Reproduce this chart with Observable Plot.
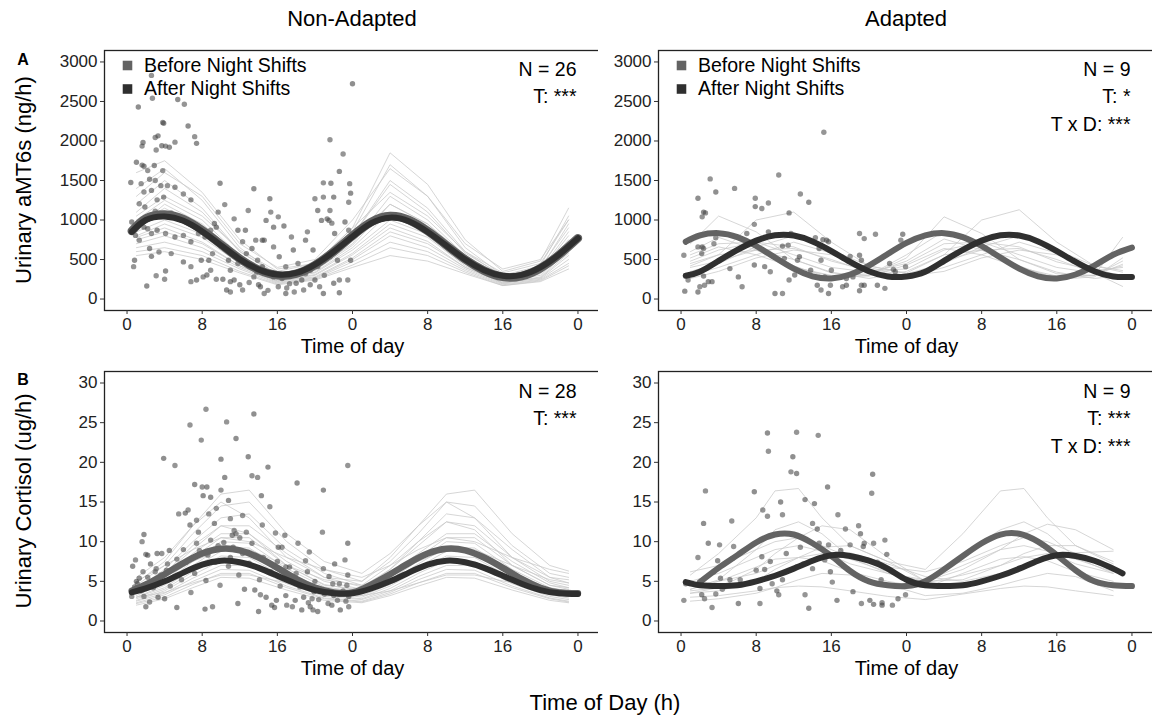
<!DOCTYPE html>
<html><head><meta charset="utf-8">
<script src="https://cdn.jsdelivr.net/npm/d3@7"></script>
<script src="https://cdn.jsdelivr.net/npm/@observablehq/plot@0.6"></script>
<style>
body{margin:0;background:#fff;font-family:"Liberation Sans",Arial,sans-serif;}
#fig{position:relative;width:1152px;height:717px;overflow:hidden;background:#fff;}
.abs{position:absolute;white-space:nowrap;color:#000;}
.ctr{transform:translate(-50%,-50%);}
.rot{transform:translate(-50%,-50%) rotate(-90deg);}
</style></head><body><div id="fig"></div>
<script>
// ---------- labels ----------
const columnTitles = ["Non-Adapted", "Adapted"];
const rowLetters = ["A", "B"];
const yTitles = ["Urinary aMT6s (ng/h)", "Urinary Cortisol (ug/h)"];
const xTitle = "Time of day";
const bottomTitle = "Time of Day (h)";
const legendLabels = ["Before Night Shifts", "After Night Shifts"];
const statsANon = ["N = 26", "T: ***"];
const statsAAd = ["N = 9", "T: *", "T x D: ***"];
const statsCNon = ["N = 28", "T: ***"];
const statsCAd = ["N = 9", "T: ***", "T x D: ***"];
const xTickValues = [0, 8, 16, 24, 32, 40, 48];
const yTicksA = [0, 500, 1000, 1500, 2000, 2500, 3000];
const yTicksC = [0, 5, 10, 15, 20, 25, 30];

// ---------- group mean curves ----------
const curveHours = [0.5, 2, 4, 6, 8, 10, 12, 14, 16, 18, 20, 22, 24, 26, 28, 30, 32, 34, 36, 38, 40, 42, 44, 46, 48];
const aNonBefore = [860, 1020, 1070, 1010, 870, 690, 510, 370, 300, 320, 430, 600, 800, 975, 1050, 1000, 860, 680, 500, 360, 280, 290, 390, 560, 770];
const aNonAfter  = [850, 1000, 1045, 990, 855, 680, 505, 375, 310, 330, 435, 600, 790, 960, 1030, 985, 850, 675, 500, 365, 295, 305, 400, 565, 770];
const aAdBefore  = [725, 805, 834, 784, 671, 525, 384, 287, 260, 310, 423, 569, 710, 805, 834, 784, 671, 525, 384, 287, 260, 310, 423, 560, 650];
const aAdAfter   = [295, 345, 483, 621, 739, 806, 803, 729, 607, 469, 351, 285, 285, 345, 483, 621, 739, 806, 803, 729, 607, 469, 351, 285, 280];
const cNonBefore = [3.8, 4.6, 5.9, 7.3, 8.5, 9.1, 8.9, 8.0, 6.7, 5.3, 4.2, 3.6, 3.6, 4.6, 5.9, 7.3, 8.5, 9.1, 8.9, 8.0, 6.7, 5.3, 4.2, 3.6, 3.5];
const cNonAfter  = [3.6, 4.1, 5.0, 6.1, 7.1, 7.6, 7.4, 6.7, 5.7, 4.7, 3.9, 3.5, 3.5, 4.1, 5.0, 6.1, 7.1, 7.6, 7.4, 6.7, 5.7, 4.7, 3.9, 3.5, 3.4];
const cAdBeforeHours = [2, 4, 6, 8, 10, 12, 14, 16, 18, 20, 22, 24, 26, 28, 30, 32, 34, 36, 38, 40, 42, 44, 46, 48];
const cAdBefore  = [4.9, 6.7, 8.3, 9.9, 10.9, 10.9, 9.8, 8.2, 6.3, 5.0, 4.5, 4.4, 5.0, 6.5, 8.2, 9.8, 10.9, 11.0, 10.0, 8.3, 6.4, 5.0, 4.5, 4.4];
const cAdAfterHours = [0.5, 2, 4, 6, 8, 10, 12, 14, 16, 18, 20, 22, 24, 26, 28, 30, 32, 34, 36, 38, 40, 42, 44, 46, 47];
const cAdAfter   = [4.9, 4.5, 4.4, 4.5, 5.0, 5.7, 6.6, 7.6, 8.3, 8.2, 7.6, 6.6, 5.2, 4.5, 4.4, 4.5, 5.0, 5.7, 6.6, 7.6, 8.3, 8.2, 7.6, 6.6, 6.0];

// ---------- individual subject curves ----------
const aLineHours = [1, 4, 8, 12, 16, 20, 24, 28, 32, 36, 40, 44, 47];
const aNonLines = [
  [1600,1750,1350,750,380,450,900,1850,1450,750,350,480,1150],
  [1400,1650,1250,650,300,420,850,1700,1300,650,300,420,1050],
  [1200,1500,1150,600,300,400,800,1500,1150,600,280,380,950],
  [1100,1400,1100,600,320,420,800,1450,1100,580,300,400,900],
  [1000,1250,1000,550,280,380,700,1300,1000,550,260,350,800],
  [950,1150,900,520,270,360,680,1200,950,500,250,330,750],
  [900,1100,880,500,260,340,650,1100,880,480,230,320,700],
  [850,1000,820,480,250,330,620,1000,820,450,220,300,650],
  [800,950,780,450,230,310,580,950,780,420,200,280,620],
  [780,900,720,420,220,300,560,900,730,400,200,270,580],
  [750,850,700,420,230,280,520,850,700,400,210,260,550],
  [700,800,650,400,210,270,500,800,650,380,190,250,500],
  [650,720,600,380,200,260,470,720,600,360,180,240,450],
  [600,650,550,350,190,250,430,650,550,340,170,230,420],
  [550,600,500,330,180,240,400,550,480,320,170,220,380],
  [1300,1600,1300,700,400,500,1000,1650,1300,700,380,500,1000],
  [1050,1300,1050,620,350,450,900,1350,1050,600,330,450,1000],
  [900,1200,950,550,300,380,750,1200,950,550,280,360,850]
];
const aAdLines = [
  [700,1050,850,500,330,300,520,1040,830,500,320,300,480],
  [420,560,1000,1100,720,420,330,560,1000,1130,720,420,360],
  [720,860,660,420,260,300,560,860,660,420,250,280,520],
  [480,620,720,660,480,360,380,620,720,660,470,360,400],
  [350,450,660,800,620,420,320,450,660,800,620,420,340],
  [600,780,620,400,290,320,480,760,620,400,270,300,440],
  [300,400,560,720,580,380,270,400,560,720,580,380,290],
  [560,700,720,560,400,340,450,700,720,560,400,330,420],
  [520,660,560,400,300,290,430,640,560,400,290,300,780],
  [450,560,620,500,340,260,350,560,620,500,340,260,300],
  [400,480,620,640,500,340,290,480,620,640,500,330,160],
  [260,350,520,620,560,400,290,350,520,620,560,400,260]
];
const cNonLineHours = [1, 4, 7, 10, 13, 17, 21, 25, 28, 31, 34, 37, 41, 45, 47];
const cNonLines = [
  [5.5,8,12,16,16.5,11,7.5,6,8.5,12,16,16.5,11,7,6.3],
  [4.5,7,11,14.5,15,10,6.5,5,7.5,11,15,14.5,9.5,6,5.5],
  [4,6.5,10,13,13.5,9,6,4.5,7,10,13.5,13,9,5.5,4.8],
  [4,6,9,12,12,8.5,5.5,4.3,6.5,9.5,12.5,12,8,5,4.5],
  [3.5,5.5,8.5,11,11,7.5,5,4,6,8.5,11,11,7.5,4.8,4.2],
  [3.5,5,8,10.5,10.5,7,4.6,3.8,5.5,8,10.5,10.5,7,4.5,4],
  [3.2,4.8,7.5,10,9.8,6.6,4.3,3.6,5.2,7.6,10,9.8,6.5,4.2,3.8],
  [3,4.5,7,9.3,9.2,6.2,4,3.4,5,7.2,9.3,9.2,6.2,4,3.6],
  [3,4.2,6.6,8.8,8.6,5.8,3.8,3.2,4.6,6.8,8.8,8.6,5.8,3.7,3.3],
  [2.8,4,6.2,8.2,8,5.4,3.6,3,4.4,6.4,8.2,8,5.4,3.5,3.1],
  [2.6,3.8,5.8,7.6,7.5,5,3.3,2.8,4.1,6,7.6,7.5,5,3.3,2.9],
  [2.5,3.5,5.4,7,7,4.7,3.1,2.7,3.8,5.6,7,7,4.7,3.1,2.7],
  [2.3,3.3,5,6.5,6.4,4.4,2.9,2.5,3.6,5.2,6.5,6.4,4.4,2.9,2.5],
  [2.2,3,4.6,6,6,4.2,2.8,2.4,3.4,4.8,6,6,4.2,2.8,2.4],
  [2,2.8,4.2,5.5,5.4,3.9,2.6,2.3,3.2,4.4,5.5,5.4,3.9,2.6,2.3],
  [5,7,9,10.5,10,8,6.5,5.5,7,9,10.5,10,8,6.5,6],
  [3.8,6,9.5,12,11,7,4.5,4,6.5,10,12.5,11.5,7,4.5,4.2],
  [4.2,5.5,7.5,9,9,7,5.2,4.5,5.8,7.5,9,9,7,5.2,4.8],
  [3,3.6,4.8,5.8,5.8,4.8,3.6,3.2,3.8,4.8,5.8,5.8,4.8,3.6,3.2],
  [4.8,7.5,12,15,13,8,5.5,5,8,12,15,13,8,5.5,5.2]
];
const cAdLineHours = [1, 4, 8, 10, 12.5, 15, 18, 22, 26, 30, 34, 36.5, 39, 42, 46];
const cAdLines = [
  [5.8,8.5,13,16.4,16.7,13,9.5,7.5,6.5,11,16.4,16.7,13,9.5,7.2],
  [4,5.2,9,11.5,12.5,11,8,6,5.2,8.5,11.5,12.5,11,8,6],
  [3.5,4.2,6.5,8.5,10.5,12,11.5,8,5,6.5,9,11,12.2,11.5,9],
  [3.5,3.8,5,6.5,8,9.3,9.5,7.5,5,5.2,7,8.5,9.5,9.5,7.5],
  [4.5,5,6,7,8,8.5,7.8,6.2,4.8,5.8,7,8,8.5,7.8,6.2],
  [2.5,2.8,3.5,4.2,5.2,6,5.8,4.6,3.2,3.5,4.5,5.3,6,5.6,3.8],
  [3,3.2,3.8,4.2,4.4,4.3,3.8,3.1,2.7,3.4,4.1,4.4,4.3,3.8,3.2],
  [5,6,8,9,9.5,8.8,7.2,6,5,7,9,9.5,8.8,7.2,6],
  [4,5,6.8,7.8,8,7.6,6.2,5,4.2,6,7.8,8.1,7.6,6.2,5],
  [6.2,7,9,10,10.5,9.5,8,6.8,6.2,7.5,9.5,10.5,10,8.5,7],
  [3.8,4.2,5,5.8,6.8,8,8.6,7.2,5.6,5,6,7,8,8.6,8.8]
];

// ---------- observed samples [hour, value] ----------
const aNonPts = [[2.6,2830],[1.2,2430],[2.7,2540],[5.4,2525],[6.1,2465],[6.5,2190],[7.2,2055],[7.4,1970],[3.8,2235],[3.9,2225],[3.0,2045],[3.3,2065],[3.1,1885],[3.7,1940],[4.1,1935],[4.5,1920],[5.1,1985],[1.7,1980],[1.6,1935],[1.0,1730],[1.6,1695],[1.8,1680],[2.2,1625],[2.9,1690],[3.8,1625],[0.4,1475],[1.5,1460],[2.4,1515],[3.0,1500],[3.6,1435],[4.3,1435],[5.1,1415],[6.0,1330],[6.8,1255],[1.8,1355],[2.6,1375],[3.2,1255],[3.9,1290],[1.3,1205],[1.9,1165],[3.0,1110],[3.9,1080],[4.7,1090],[5.5,1015],[1.1,955],[1.8,910],[2.2,890],[0.5,975],[2.6,830],[3.2,870],[4.1,830],[5.1,785],[6.0,805],[6.8,725],[7.6,830],[0.9,805],[1.3,745],[2.4,640],[3.4,595],[2.6,540],[4.7,575],[0.8,490],[0.7,410],[2.1,165],[3.1,295],[4.1,355],[4.0,250],[6.0,470],[6.8,410],[7.9,490],[6.8,220],[7.4,240],[8.1,280],[8.5,305],[8.9,365],[8.7,490],[9.1,575],[8.3,785],[8.9,870],[9.3,955],[9.7,1100],[9.9,1465],[10.4,1195],[9.5,910],[10.6,660],[10.8,490],[11.0,365],[10.2,250],[11.4,1015],[11.8,870],[12.9,1120],[12.6,870],[12.3,725],[12.7,575],[11.8,450],[10.6,115],[11.0,90],[11.4,240],[12.3,115],[13.5,1395],[13.7,745],[13.3,640],[13.9,490],[14.4,410],[13.5,280],[14.2,155],[14.6,70],[15.2,1270],[15.3,1100],[14.8,995],[14.6,745],[15.6,910],[16.1,1040],[16.7,925],[15.6,660],[16.2,535],[16.9,410],[15.6,280],[16.1,155],[16.9,70],[17.5,785],[17.7,620],[18.2,450],[18.6,240],[18.8,115],[19.0,745],[19.2,850],[19.8,620],[20.0,1270],[20.3,1120],[20.9,1290],[20.3,410],[20.5,155],[20.9,70],[20.9,1470],[21.7,1465],[21.6,2015],[22.0,1290],[21.6,1120],[21.3,1015],[21.8,960],[22.1,830],[21.6,535],[22.4,490],[22.6,240],[22.6,80],[23.0,1835],[22.6,1615],[23.7,1460],[23.8,1340],[23.6,1225],[23.2,975],[23.6,870],[23.8,490],[23.5,240],[24.0,2725],[21.5,995],[20.7,995],[19.5,365],[14.4,745],[17.3,195],[14.0,180],[15.0,110],[16.5,260],[17.0,140],[18.0,200],[19.0,320],[19.5,180],[17.8,90],[12.0,180],[13.0,210],[11.0,220],[9.5,250],[15.5,330],[13.8,340],[16.0,300],[18.5,350],[20.0,240],[21.0,300],[22.0,200]];
const aAdPts = [[0.3,555],[0.4,100],[0.75,240],[1.8,1275],[1.8,660],[2.25,660],[2.0,155],[1.8,90],[2.25,1040],[2.4,1100],[2.6,1090],[2.2,575],[2.4,640],[2.4,290],[2.5,175],[2.9,220],[3.1,1520],[3.3,220],[3.5,700],[3.7,1355],[3.7,775],[5.2,385],[5.7,1400],[6.1,280],[6.5,155],[7.0,830],[7.8,945],[7.8,430],[7.9,1275],[7.9,1170],[8.6,1145],[8.9,410],[9.3,1215],[9.3,850],[9.5,345],[10.0,70],[10.4,1570],[10.8,670],[10.8,70],[11.0,515],[11.4,680],[11.5,1090],[11.7,830],[12.1,305],[12.4,490],[12.6,535],[12.7,1330],[13.6,1225],[14.3,775],[14.7,640],[14.9,490],[14.5,175],[14.9,115],[15.1,750],[15.2,2110],[15.5,745],[15.7,725],[15.7,70],[15.9,175],[15.3,280],[17.2,155],[17.6,175],[18.0,540],[19.0,105],[19.0,830],[19.0,555],[19.2,175],[19.2,490],[19.5,765],[19.5,175],[20.7,820],[20.9,175],[21.7,135],[22.2,450],[22.6,375],[22.8,345],[23.4,745],[23.6,820],[23.9,410],[17.6,260],[16.0,365],[18.3,280],[11.5,240],[13.8,365]];
const cNonPts = [[0.5,3.1],[0.6,6.9],[0.9,7.7],[1.3,5.4],[1.6,10.0],[1.8,10.9],[2.0,8.4],[2.2,8.3],[1.1,4.7],[1.4,4.1],[1.8,3.1],[2.0,1.8],[2.4,2.4],[2.6,4.7],[3.0,6.2],[3.2,8.5],[3.7,8.5],[3.9,20.5],[4.3,7.2],[4.5,8.9],[5.1,19.6],[5.3,1.7],[5.5,13.5],[6.2,13.6],[6.5,14.0],[6.7,12.1],[6.7,24.7],[7.2,17.2],[7.4,12.7],[7.6,11.2],[7.9,22.8],[8.1,15.8],[8.0,16.9],[8.3,1.5],[8.4,26.7],[8.5,16.9],[8.7,13.5],[8.9,15.6],[9.1,1.8],[9.3,12.3],[9.5,14.2],[10.0,20.4],[10.0,16.5],[10.4,18.1],[10.6,25.1],[10.8,15.2],[11.0,12.9],[11.2,10.8],[11.4,11.4],[11.6,23.0],[11.6,11.0],[11.8,2.2],[12.3,13.3],[12.3,8.5],[12.7,11.2],[12.9,20.7],[13.3,18.3],[13.5,26.1],[13.9,18.1],[14.0,1.2],[14.2,3.3],[14.3,15.8],[14.4,12.1],[15.0,19.4],[15.2,14.4],[15.4,2.0],[15.8,11.1],[16.1,9.3],[16.5,9.3],[16.8,10.8],[16.9,6.8],[17.3,6.8],[17.6,1.8],[18.1,17.4],[18.2,9.8],[18.6,1.4],[19.0,7.6],[19.2,6.2],[19.4,8.7],[19.5,1.8],[19.8,1.4],[20.3,1.2],[20.8,11.2],[20.9,16.5],[20.9,6.6],[21.5,5.6],[21.9,4.7],[22.1,7.2],[22.6,4.7],[22.7,1.4],[23.2,7.7],[23.5,9.8],[23.5,19.6],[23.5,5.8],[23.6,1.8],[23.6,3.1],[23.4,4.5],[1.0,5.0],[1.5,3.8],[2.2,5.5],[2.8,4.2],[3.3,3.0],[3.6,5.8],[4.0,2.8],[4.6,4.4],[5.0,6.6],[5.8,5.2],[6.3,7.4],[6.8,3.6],[7.2,6.0],[7.7,8.9],[8.4,5.1],[8.9,10.2],[9.4,7.4],[9.9,4.5],[10.3,9.9],[10.8,6.9],[11.3,9.3],[11.9,5.8],[12.5,4.0],[13.0,7.3],[13.6,3.9],[14.1,5.2],[14.8,3.0],[15.3,6.2],[15.9,2.6],[16.3,4.4],[16.9,3.2],[17.4,5.0],[17.9,2.6],[18.4,4.3],[18.8,3.0],[19.3,2.3],[19.9,3.7],[20.4,2.7],[21.0,3.4],[21.4,2.2],[22.0,3.2],[22.4,2.6],[23.0,3.8],[23.3,2.5],[20.0,5.0],[18.0,6.0],[16.0,7.5],[14.5,8.0],[13.3,9.8],[12.0,10.5],[11.0,8.0],[9.7,9.5],[8.6,8.3],[7.4,9.8],[6.0,9.0],[5.3,7.8],[4.2,6.4],[3.1,6.6],[2.5,7.2],[1.7,6.2],[0.8,4.3],[17.0,2.0],[15.7,1.7],[19.7,2.8],[21.8,2.0]];
const cAdPts = [[0.3,2.6],[0.5,4.7],[1.8,8.0],[2.4,12.3],[2.6,16.4],[2.2,3.3],[2.5,2.8],[2.9,9.8],[3.3,1.7],[3.5,6.2],[3.7,3.4],[3.9,7.6],[4.1,9.6],[4.2,5.4],[4.4,4.0],[5.2,5.2],[5.4,12.6],[5.5,7.9],[5.6,9.4],[6.1,2.2],[6.3,5.2],[7.8,16.3],[8.0,6.4],[8.4,4.1],[8.4,2.2],[8.6,8.1],[8.7,14.0],[8.9,6.5],[9.2,13.2],[9.2,23.7],[9.3,21.4],[9.5,7.5],[9.7,4.7],[10.2,3.8],[10.4,3.3],[10.6,15.0],[10.8,13.4],[10.8,5.2],[11.7,18.8],[11.9,20.7],[12.3,23.8],[12.3,18.6],[12.7,9.3],[13.2,15.3],[13.2,3.3],[13.6,1.6],[14.0,12.3],[14.2,14.8],[14.0,6.6],[14.5,11.6],[14.6,23.4],[14.7,9.8],[15.3,7.7],[15.6,16.9],[15.7,9.6],[15.9,6.2],[16.1,4.9],[16.6,2.6],[16.7,13.4],[17.0,8.9],[17.5,11.6],[17.7,6.6],[18.0,9.6],[18.3,3.7],[18.9,12.0],[19.1,11.0],[19.2,2.2],[19.4,9.4],[19.5,9.8],[20.1,2.6],[20.3,16.1],[20.4,18.5],[20.5,9.8],[20.5,2.1],[20.9,7.4],[21.3,5.2],[21.4,2.3],[21.4,2.0],[21.7,10.2],[21.9,8.4],[22.5,2.0],[23.1,2.8],[23.9,3.3],[12.3,6.8],[13.0,7.2],[11.2,8.5]];

// ---------- drawing ----------
const FONT = "Liberation Sans, Arial, Helvetica, sans-serif";
const fig = document.getElementById("fig");

function addText(txt, x, y, cls, size, extra = "") {
  const d = document.createElement("div");
  d.className = "abs " + cls;
  d.style.cssText += `left:${x}px;top:${y}px;font-size:${size}px;${extra}`;
  d.textContent = txt;
  fig.appendChild(d);
}

function panel(cfg) {
  const thin = cfg.lines.flatMap((vals, i) => vals.map((v, j) => ({id: i, h: cfg.lineHours[j], v})));
  const pts = cfg.points.map(([h, v], i) => ({h, v, g: i % 2}));
  const before = cfg.beforeHours.map((h, i) => ({h, v: cfg.before[i]}));
  const after = cfg.afterHours.map((h, i) => ({h, v: cfg.after[i]}));
  const marks = [
    Plot.line(thin, {x: "h", y: "v", z: "id", stroke: "#c8c8c8", strokeWidth: 1, strokeOpacity: 0.75}),
    Plot.dot(pts.filter(d => d.g === 0), {x: "h", y: "v", r: 2.7, fill: "#5c5c5c", fillOpacity: 0.65, stroke: "none"}),
    Plot.dot(pts.filter(d => d.g === 1), {x: "h", y: "v", r: 2.7, fill: "#444", fillOpacity: 0.6, stroke: "none"}),
    Plot.line(before, {x: "h", y: "v", stroke: "#636363", strokeWidth: cfg.bw, curve: "natural"}),
    Plot.line(after, {x: "h", y: "v", stroke: "#2f2f2f", strokeWidth: cfg.aw, curve: "natural"}),
    Plot.frame({stroke: "#222", strokeWidth: 1.3}),
    Plot.axisX(xTickValues, {tickFormat: d => String(d % 24), tickSize: 4, tickPadding: 3, fontSize: 17, label: null, stroke: "#333", color: "#222"}),
    Plot.axisY(cfg.yTicks, {tickFormat: d => String(d), tickSize: 4, tickPadding: 3, fontSize: 17, label: null, stroke: "#333", color: "#222"}),
    Plot.text([xTitle], {frameAnchor: "bottom", lineAnchor: "middle", dy: 36, fontSize: 20, fill: "#000"})
  ];
  cfg.stats.forEach((s, i) => marks.push(
    Plot.text([s], {frameAnchor: "top-right", textAnchor: "end", lineAnchor: "middle", dx: -24, dy: cfg.statsY + i * 27.5, fontSize: 19.5, fill: "#000"})
  ));
  if (cfg.legend) {
    [["#636363", 0], ["#2f2f2f", 1]].forEach(([c, i]) => {
      marks.push(Plot.dot([legendLabels[i]], {frameAnchor: "top-left", dx: 23, dy: 15 + i * 23.5, symbol: "square", r: 5.4, fill: c, stroke: "none"}));
      marks.push(Plot.text([legendLabels[i]], {frameAnchor: "top-left", textAnchor: "start", lineAnchor: "middle", dx: 39.5, dy: 15 + i * 23.5, fontSize: 19.5, fill: "#000"}));
    });
  }
  const p = Plot.plot({
    width: cfg.width, height: cfg.height,
    marginLeft: cfg.ml, marginRight: 10, marginTop: 10, marginBottom: 50,
    style: {fontFamily: FONT, background: "white", overflow: "visible"},
    x: {domain: [-2.4, 50.4]},
    y: {domain: cfg.yDomain},
    marks
  });
  p.style.position = "absolute";
  p.style.left = cfg.left + "px";
  p.style.top = cfg.top + "px";
  fig.appendChild(p);
}

const yDomA = [-145, 3145];
const yDomC = [-1.45, 31.45];

panel({left: 40, top: 40, width: 570, height: 320, ml: 64, yDomain: yDomA, yTicks: yTicksA,
  lines: aNonLines, lineHours: aLineHours, points: aNonPts,
  beforeHours: curveHours, before: aNonBefore, afterHours: curveHours, after: aNonAfter,
  bw: 8.5, aw: 6, stats: statsANon, statsY: 19, legend: true});
panel({left: 598, top: 40, width: 566, height: 320, ml: 60, yDomain: yDomA, yTicks: yTicksA,
  lines: aAdLines, lineHours: aLineHours, points: aAdPts,
  beforeHours: curveHours, before: aAdBefore, afterHours: curveHours, after: aAdAfter,
  bw: 6, aw: 6, stats: statsAAd, statsY: 19, legend: true});
panel({left: 40, top: 361, width: 570, height: 321, ml: 64, yDomain: yDomC, yTicks: yTicksC,
  lines: cNonLines, lineHours: cNonLineHours, points: cNonPts,
  beforeHours: curveHours, before: cNonBefore, afterHours: curveHours, after: cNonAfter,
  bw: 6.5, aw: 6, stats: statsCNon, statsY: 20, legend: false});
panel({left: 598, top: 361, width: 566, height: 321, ml: 60, yDomain: yDomC, yTicks: yTicksC,
  lines: cAdLines, lineHours: cAdLineHours, points: cAdPts,
  beforeHours: cAdBeforeHours, before: cAdBefore, afterHours: cAdAfterHours, after: cAdAfter,
  bw: 6, aw: 6, stats: statsCAd, statsY: 20, legend: false});

addText(columnTitles[0], 352, 19, "ctr", 22);
addText(columnTitles[1], 906, 19, "ctr", 22);
addText(rowLetters[0], 23, 60, "ctr", 16, "font-weight:bold;");
addText(rowLetters[1], 23, 380, "ctr", 16, "font-weight:bold;");
addText(yTitles[0], 24, 180, "rot", 22);
addText(yTitles[1], 24, 501, "rot", 22);
addText(bottomTitle, 605, 703, "ctr", 22);
</script></body></html>
